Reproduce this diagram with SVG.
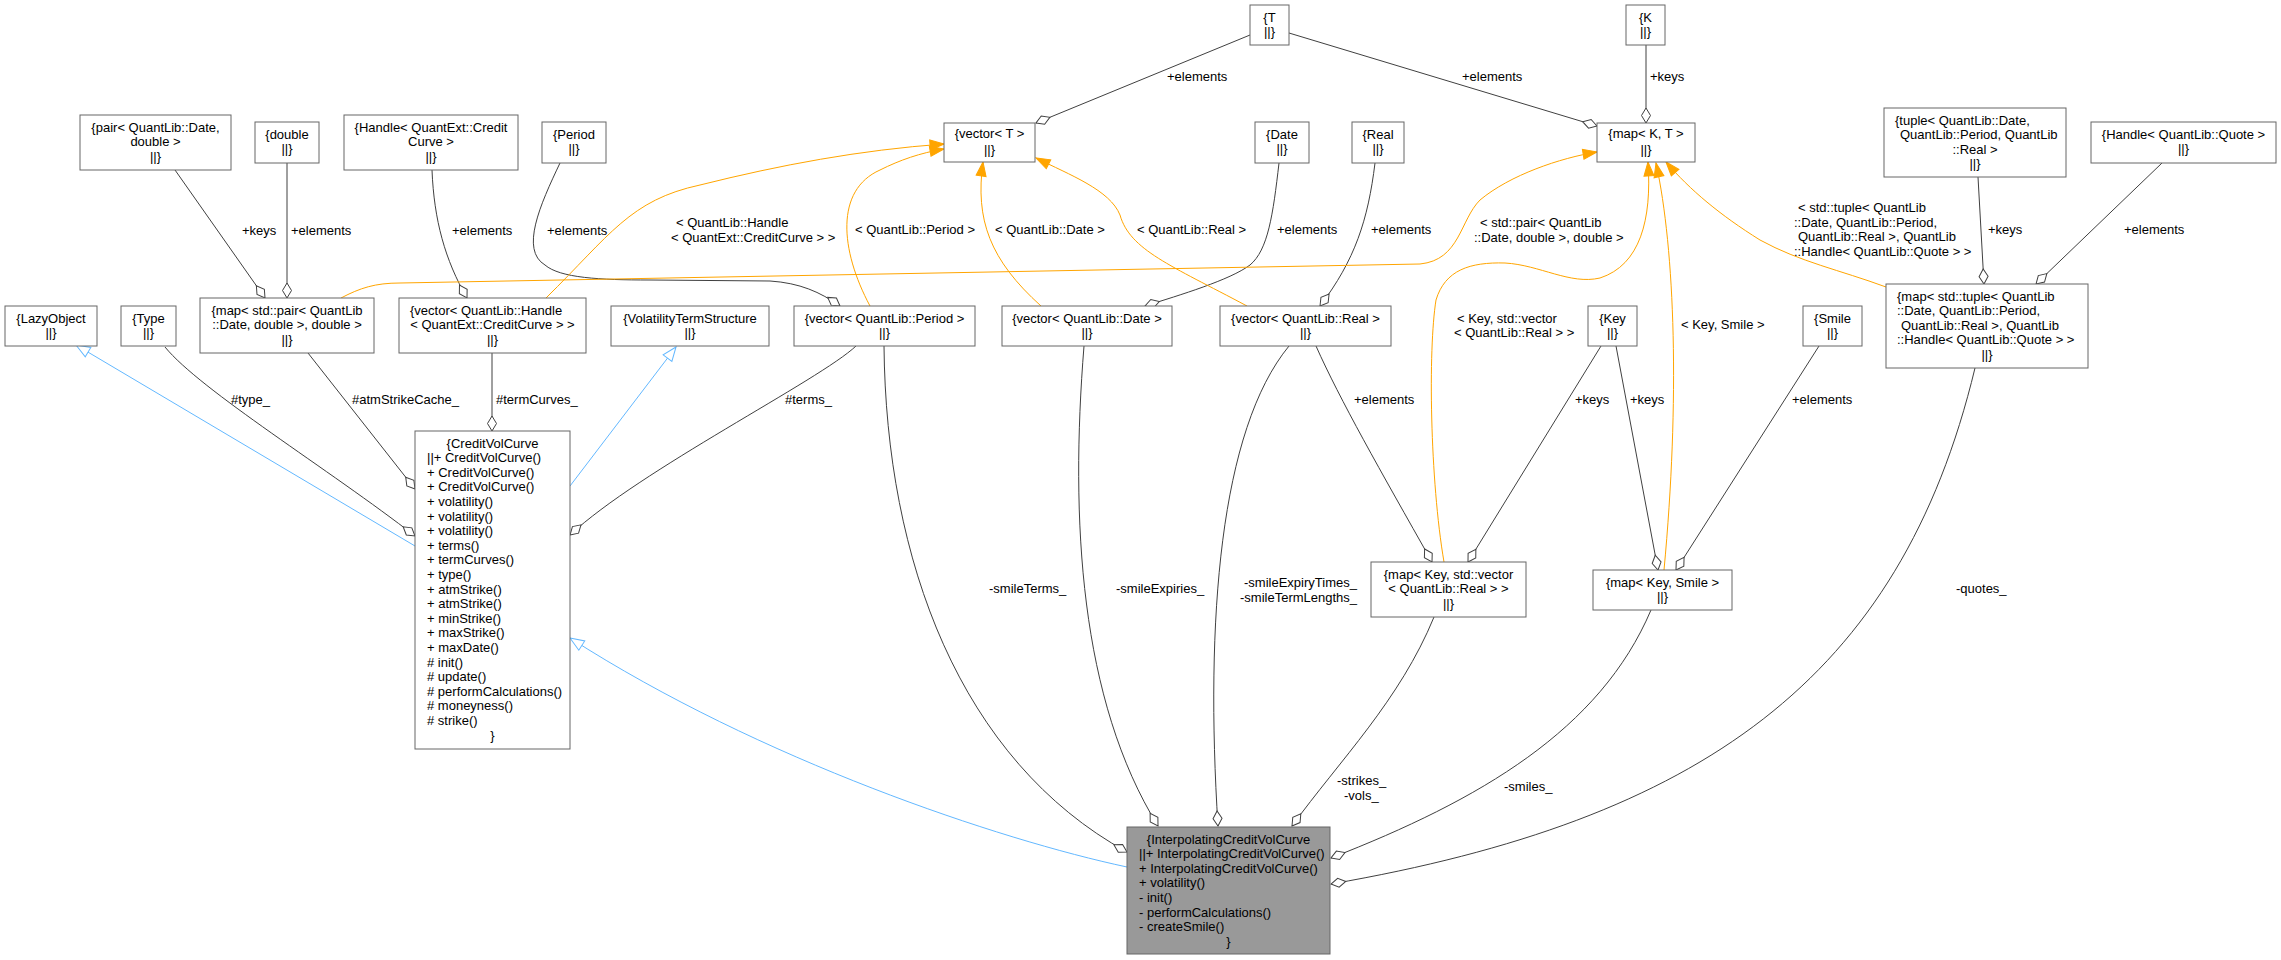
<svg xmlns="http://www.w3.org/2000/svg" width="2281" height="960" viewBox="0 0 2281 960">
<style>
text{font-family:"Liberation Sans",Arial,sans-serif;font-size:13px;fill:#000}
.c{text-anchor:middle}
.box{fill:#fff;stroke:#666;stroke-width:1}
.main{fill:#999;stroke:#666;stroke-width:1}
.agg{fill:none;stroke:#404040;stroke-width:1;marker-end:url(#dia)}
.tpl{fill:none;stroke:#FFA500;stroke-width:1;marker-end:url(#tri)}
.inh{fill:none;stroke:#63B8FF;stroke-width:1;marker-end:url(#otri)}
</style>
<defs>
<marker id="dia" markerUnits="userSpaceOnUse" orient="auto" refX="0" refY="0" markerWidth="20" markerHeight="20" overflow="visible"><path d="M0,0 L-7.5,-4.5 L-15,0 L-7.5,4.5 Z" fill="#fff" stroke="#404040" stroke-width="1"/></marker>
<marker id="tri" markerUnits="userSpaceOnUse" orient="auto" refX="0" refY="0" markerWidth="20" markerHeight="20" overflow="visible"><path d="M0,0 L-14,-5 L-14,5 Z" fill="#FFA500" stroke="#FFA500" stroke-width="1"/></marker>
<marker id="otri" markerUnits="userSpaceOnUse" orient="auto" refX="0" refY="0" markerWidth="20" markerHeight="20" overflow="visible"><path d="M0,0 L-14,-5.5 L-14,5.5 Z" fill="#fff" stroke="#63B8FF" stroke-width="1"/></marker>
</defs>
<rect width="2281" height="960" fill="#fff"/>
<g id="edges">
<path class="agg" d="M1250,35 L1036,123"/>
<text x="1167" y="80.5">+elements</text>
<path class="agg" d="M1289,33 L1597,126"/>
<text x="1462" y="80.5">+elements</text>
<path class="agg" d="M1646,45 L1646,123"/>
<text x="1650" y="80.5">+keys</text>
<path class="agg" d="M175,170 L265,298"/>
<text x="242" y="234.5">+keys</text>
<path class="agg" d="M287,163 L287,298"/>
<text x="291" y="234.5">+elements</text>
<path class="agg" d="M432,170 C434,220 445,260 467,298"/>
<text x="452" y="234.5">+elements</text>
<path class="agg" d="M560,163 C540,205 520,250 545,265 C560,278 600,280 650,280 L770,281 C800,283 820,292 840,306"/>
<text x="547" y="234.5">+elements</text>
<path class="agg" d="M1279,163 C1273,215 1268,250 1250,265 C1230,280 1180,295 1145,306"/>
<text x="1277" y="233.5">+elements</text>
<path class="agg" d="M1375,163 C1368,220 1355,260 1320,306"/>
<text x="1371" y="233.5">+elements</text>
<path class="agg" d="M1978,177 L1984,284"/>
<text x="1988" y="233.5">+keys</text>
<path class="agg" d="M2162,163 L2036,284"/>
<text x="2124" y="233.5">+elements</text>
<path class="agg" d="M1316,346 C1340,400 1380,470 1432,562"/>
<text x="1354" y="403.5">+elements</text>
<path class="agg" d="M1601,346 L1468,562"/>
<text x="1575" y="403.5">+keys</text>
<path class="agg" d="M1616,346 L1658,570"/>
<text x="1630" y="403.5">+keys</text>
<path class="agg" d="M1819,346 L1676,570"/>
<text x="1792" y="403.5">+elements</text>
<path class="agg" d="M165,347 C200,390 330,470 415,536"/>
<text x="231" y="403.5">#type_</text>
<path class="agg" d="M308,353 L415,489"/>
<text x="352" y="403.5">#atmStrikeCache_</text>
<path class="agg" d="M492,353 L492,431"/>
<text x="496" y="403.5">#termCurves_</text>
<path class="agg" d="M856,346 C820,380 640,470 570,535"/>
<text x="785" y="403.5">#terms_</text>
<path class="inh" d="M415,546 L76,345"/>
<path class="inh" d="M570,486 L676,347"/>
<path class="inh" d="M1127,867 C1000,840 760,760 570,638"/>
<path class="agg" d="M884,346 C886,560 960,760 1127,852"/>
<text x="989" y="593">-smileTerms_</text>
<path class="agg" d="M1084,346 C1070,520 1080,700 1158,826"/>
<text x="1116" y="593">-smileExpiries_</text>
<path class="agg" d="M1289,346 C1220,430 1205,620 1218,826"/>
<text x="1244" y="586.5">-smileExpiryTimes_</text>
<text x="1240" y="601.5">-smileTermLengths_</text>
<path class="agg" d="M1434,617 C1400,700 1340,760 1292,826"/>
<text x="1337" y="784.5">-strikes_</text>
<text x="1344" y="799.5">-vols_</text>
<path class="agg" d="M1651,610 C1600,730 1480,800 1331,858"/>
<text x="1504" y="790.5">-smiles_</text>
<path class="agg" d="M1975,368 C1900,680 1700,820 1331,884"/>
<text x="1956" y="593">-quotes_</text>
<path class="tpl" d="M546,298 C610,235 630,200 700,185 C780,165 860,150 944,144"/>
<text x="676" y="226.5">&lt; QuantLib::Handle</text>
<text x="671" y="241.5">&lt; QuantExt::CreditCurve &gt; &gt;</text>
<path class="tpl" d="M870,306 C840,250 835,190 880,170 C900,160 920,153 944,149"/>
<text x="855" y="233.5">&lt; QuantLib::Period &gt;</text>
<path class="tpl" d="M1041,306 C990,260 975,220 983,162"/>
<text x="995" y="233.5">&lt; QuantLib::Date &gt;</text>
<path class="tpl" d="M1247,306 C1170,265 1130,250 1120,215 C1110,190 1070,175 1036,158"/>
<text x="1137" y="233.5">&lt; QuantLib::Real &gt;</text>
<path class="tpl" d="M341,298 C360,288 375,283 400,283 L1420,264 C1460,260 1460,220 1480,200 C1510,175 1560,158 1597,152"/>
<text x="1480" y="226.5">&lt; std::pair&lt; QuantLib</text>
<text x="1474" y="241.5">::Date, double &gt;, double &gt;</text>
<path class="tpl" d="M1444,562 C1430,480 1428,350 1436,300 C1445,270 1470,262 1505,263 C1540,265 1570,285 1600,278 C1640,265 1652,220 1648,162"/>
<text x="1457" y="322.5">&lt; Key, std::vector</text>
<text x="1454" y="336.5">&lt; QuantLib::Real &gt; &gt;</text>
<path class="tpl" d="M1664,570 C1680,400 1675,250 1656,163"/>
<text x="1681" y="328.5">&lt; Key, Smile &gt;</text>
<path class="tpl" d="M1886,287 C1840,270 1800,262 1760,240 C1720,215 1690,190 1666,162"/>
<text x="1798" y="211.5">&lt; std::tuple&lt; QuantLib</text>
<text x="1794" y="226.5">::Date, QuantLib::Period,</text>
<text x="1798" y="241">QuantLib::Real &gt;, QuantLib</text>
<text x="1794" y="255.5">::Handle&lt; QuantLib::Quote &gt; &gt;</text>
</g>
<g id="n_LazyObject"><rect class="box" x="5" y="306" width="92" height="40"/><text class="c" x="51" y="322.5">{LazyObject</text><text class="c" x="51" y="337">||}</text></g>
<g id="n_Type"><rect class="box" x="121" y="306" width="55" height="40"/><text class="c" x="148.5" y="322.5">{Type</text><text class="c" x="148.5" y="337">||}</text></g>
<g id="n_pair"><rect class="box" x="80" y="115" width="151" height="55"/><text class="c" x="155.5" y="131.5">{pair&lt; QuantLib::Date,</text><text class="c" x="155.5" y="146">double &gt;</text><text class="c" x="155.5" y="160.5">||}</text></g>
<g id="n_double"><rect class="box" x="255" y="122" width="64" height="41"/><text class="c" x="287" y="138.5">{double</text><text class="c" x="287" y="153">||}</text></g>
<g id="n_HandleCredit"><rect class="box" x="344" y="115" width="174" height="55"/><text class="c" x="431" y="131.5">{Handle&lt; QuantExt::Credit</text><text class="c" x="431" y="146">Curve &gt;</text><text class="c" x="431" y="160.5">||}</text></g>
<g id="n_Period"><rect class="box" x="542" y="122" width="64" height="41"/><text class="c" x="574" y="138.5">{Period</text><text class="c" x="574" y="153">||}</text></g>
<g id="n_mapPair"><rect class="box" x="200" y="298" width="174" height="55"/><text class="c" x="287" y="314.5">{map&lt; std::pair&lt; QuantLib</text><text class="c" x="287" y="329">::Date, double &gt;, double &gt;</text><text class="c" x="287" y="343.5">||}</text></g>
<g id="n_vecHandle"><rect class="box" x="399" y="298" width="187" height="55"/><text x="410" y="314.5">{vector&lt; QuantLib::Handle</text><text class="c" x="492.5" y="329">&lt; QuantExt::CreditCurve &gt; &gt;</text><text class="c" x="492.5" y="343.5">||}</text></g>
<g id="n_VTS"><rect class="box" x="611" y="306" width="158" height="40"/><text class="c" x="690" y="322.5">{VolatilityTermStructure</text><text class="c" x="690" y="337">||}</text></g>
<g id="n_T"><rect class="box" x="1250" y="5" width="39" height="40"/><text class="c" x="1269.5" y="21.5">{T</text><text class="c" x="1269.5" y="36">||}</text></g>
<g id="n_K"><rect class="box" x="1626" y="5" width="39" height="40"/><text class="c" x="1645.5" y="21.5">{K</text><text class="c" x="1645.5" y="36">||}</text></g>
<g id="n_vecT"><rect class="box" x="944" y="123" width="91" height="39"/><text class="c" x="989.5" y="138">{vector&lt; T &gt;</text><text class="c" x="989.5" y="153.5">||}</text></g>
<g id="n_mapKT"><rect class="box" x="1597" y="123" width="98" height="39"/><text class="c" x="1646" y="138">{map&lt; K, T &gt;</text><text class="c" x="1646" y="153.5">||}</text></g>
<g id="n_Date"><rect class="box" x="1255" y="122" width="54" height="41"/><text class="c" x="1282" y="138.5">{Date</text><text class="c" x="1282" y="153">||}</text></g>
<g id="n_Real"><rect class="box" x="1352" y="122" width="52" height="41"/><text class="c" x="1378" y="138.5">{Real</text><text class="c" x="1378" y="153">||}</text></g>
<g id="n_tuple"><rect class="box" x="1884" y="108" width="182" height="69"/><text x="1895" y="124.5">{tuple&lt; QuantLib::Date,</text><text x="1900" y="139">QuantLib::Period, QuantLib</text><text class="c" x="1975" y="153.5">::Real &gt;</text><text class="c" x="1975" y="168">||}</text></g>
<g id="n_HandleQuote"><rect class="box" x="2091" y="122" width="185" height="41"/><text class="c" x="2183.5" y="138.5">{Handle&lt; QuantLib::Quote &gt;</text><text class="c" x="2183.5" y="153">||}</text></g>
<g id="n_vecPeriod"><rect class="box" x="794" y="306" width="181" height="40"/><text class="c" x="884.5" y="322.5">{vector&lt; QuantLib::Period &gt;</text><text class="c" x="884.5" y="337">||}</text></g>
<g id="n_vecDate"><rect class="box" x="1002" y="306" width="170" height="40"/><text class="c" x="1087" y="322.5">{vector&lt; QuantLib::Date &gt;</text><text class="c" x="1087" y="337">||}</text></g>
<g id="n_vecReal"><rect class="box" x="1220" y="306" width="171" height="40"/><text class="c" x="1305.5" y="322.5">{vector&lt; QuantLib::Real &gt;</text><text class="c" x="1305.5" y="337">||}</text></g>
<g id="n_Key"><rect class="box" x="1588" y="306" width="49" height="40"/><text class="c" x="1612.5" y="322.5">{Key</text><text class="c" x="1612.5" y="337">||}</text></g>
<g id="n_Smile"><rect class="box" x="1803" y="306" width="59" height="40"/><text class="c" x="1832.5" y="322.5">{Smile</text><text class="c" x="1832.5" y="337">||}</text></g>
<g id="n_mapTuple"><rect class="box" x="1886" y="284" width="202" height="84"/><text x="1897" y="300.5">{map&lt; std::tuple&lt; QuantLib</text><text x="1897" y="315">::Date, QuantLib::Period,</text><text x="1901" y="329.5">QuantLib::Real &gt;, QuantLib</text><text x="1897" y="344">::Handle&lt; QuantLib::Quote &gt; &gt;</text><text class="c" x="1987" y="358.5">||}</text></g>
<g id="n_CreditVolCurve"><rect class="box" x="415" y="431" width="155" height="318"/>
<text class="c" x="492.5" y="447.5">{CreditVolCurve</text>
<text x="427" y="462.1">||+ CreditVolCurve()</text>
<text x="427" y="476.7">+ CreditVolCurve()</text>
<text x="427" y="491.3">+ CreditVolCurve()</text>
<text x="427" y="505.9">+ volatility()</text>
<text x="427" y="520.5">+ volatility()</text>
<text x="427" y="535.1">+ volatility()</text>
<text x="427" y="549.7">+ terms()</text>
<text x="427" y="564.3">+ termCurves()</text>
<text x="427" y="578.9">+ type()</text>
<text x="427" y="593.5">+ atmStrike()</text>
<text x="427" y="608.1">+ atmStrike()</text>
<text x="427" y="622.7">+ minStrike()</text>
<text x="427" y="637.3">+ maxStrike()</text>
<text x="427" y="651.9">+ maxDate()</text>
<text x="427" y="666.5"># init()</text>
<text x="427" y="681.1"># update()</text>
<text x="427" y="695.7"># performCalculations()</text>
<text x="427" y="710.3"># moneyness()</text>
<text x="427" y="724.9"># strike()</text>
<text class="c" x="492.5" y="739.5">}</text>
</g>
<g id="n_mapKV"><rect class="box" x="1371" y="562" width="155" height="55"/><text class="c" x="1448.5" y="578.5">{map&lt; Key, std::vector</text><text class="c" x="1448.5" y="593">&lt; QuantLib::Real &gt; &gt;</text><text class="c" x="1448.5" y="607.5">||}</text></g>
<g id="n_mapKS"><rect class="box" x="1593" y="570" width="139" height="40"/><text class="c" x="1662.5" y="586.5">{map&lt; Key, Smile &gt;</text><text class="c" x="1662.5" y="601">||}</text></g>
<g id="n_InterpolatingCreditVolCurve"><rect class="main" x="1127" y="827" width="203" height="127"/>
<text class="c" x="1228.5" y="843.5">{InterpolatingCreditVolCurve</text>
<text x="1139" y="858.1">||+ InterpolatingCreditVolCurve()</text>
<text x="1139" y="872.7">+ InterpolatingCreditVolCurve()</text>
<text x="1139" y="887.3">+ volatility()</text>
<text x="1139" y="901.9">- init()</text>
<text x="1139" y="916.5">- performCalculations()</text>
<text x="1139" y="931.1">- createSmile()</text>
<text class="c" x="1228.5" y="945.7">}</text>
</g>
</svg>
